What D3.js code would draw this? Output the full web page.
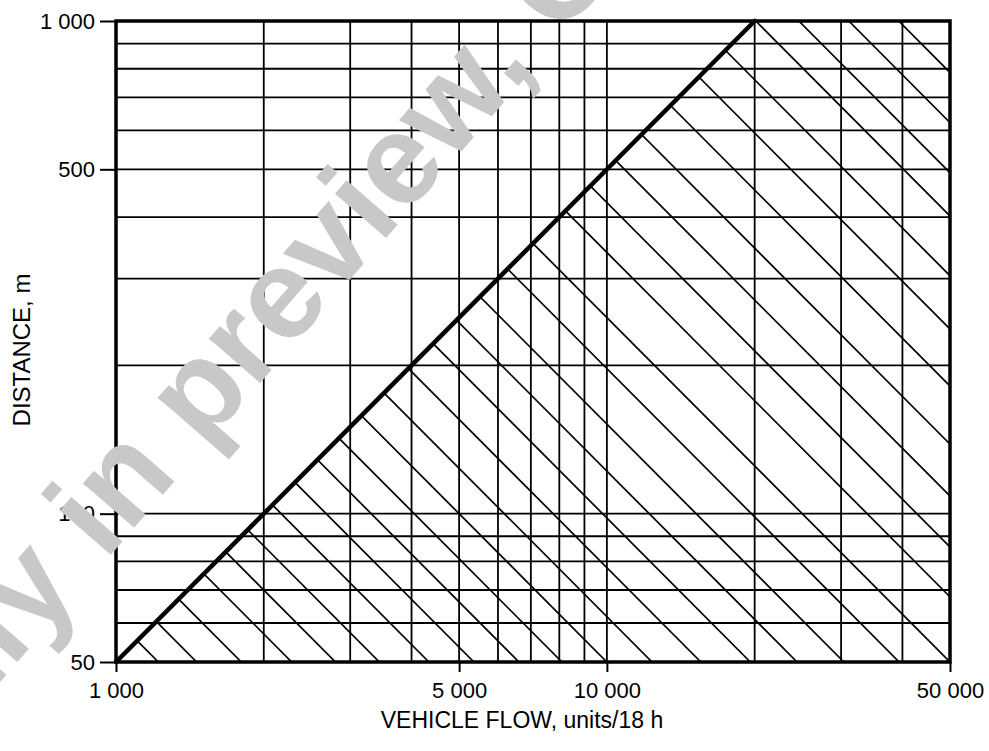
<html>
<head>
<title>Vehicle flow and distance</title>
<style>
    body { margin: 0; background: white; }
    svg text { font-family: "Liberation Sans", Arial, sans-serif; fill: black; }
    .grid line { stroke: black; stroke-width: 1.8; }
    .hatch line { stroke: black; stroke-width: 1.7; }
    .axis path { display: none; }
    .axis line { stroke: black; stroke-width: 2; }
</style>
<script src="https://d3js.org/d3.v7.min.js"></script>
</head>
<body>
<div id="chart"></div>
<script>
    // vehicle flow (units/18 h) on x, distance (m) on y, both log
    var flowDomain = [1000, 50000];
    var distDomain = [50, 1000];

    var flowTicks = [1000, 5000, 10000, 50000];
    var flowTickLabels = ['1 000', '5 000', '10 000', '50 000'];
    var distTicks = [50, 100, 500, 1000];
    var distTickLabels = ['50', '100', '500', '1 000'];

    var flowGrid = [2000, 3000, 4000, 5000, 6000, 7000, 8000, 9000, 10000, 20000, 30000, 40000];
    var distGrid = [60, 70, 80, 90, 100, 200, 300, 400, 500, 600, 700, 800, 900];

    // the heavy limit line
    var limitFlow = [1000, 20000];
    var limitDist = [50, 1000];

    // hatching: lines of constant flow x distance (millions)
    var hatchProducts = [0.061, 0.073, 0.090, 0.114, 0.140, 0.172, 0.217, 0.268, 0.331, 0.405,
        0.50, 0.618, 0.777, 0.98, 1.22, 1.52, 1.97, 2.5, 3.39, 4.28, 5.43, 6.92, 9.08,
        11.85, 15.2, 20.1, 24.6, 31.1, 39.3];

    var width = 989, height = 751;
    var plotLeft = 116, plotRight = 950, plotTop = 21, plotBottom = 662;

    var svg = d3.select('#chart')
            .append('svg')
            .attr('width', width)
            .attr('height', height);

    var x = d3.scaleLog().domain(flowDomain).range([plotLeft, plotRight]);
    var y = d3.scaleLog().domain(distDomain).range([plotBottom, plotTop]);

    // grid
    var grid = svg.append('g').attr('class', 'grid');
    grid.selectAll('line.v')
            .data(flowGrid)
        .enter().append('line')
            .attr('class', 'v')
            .attr('x1', function(d) { return x(d); })
            .attr('x2', function(d) { return x(d); })
            .attr('y1', y(distDomain[0]))
            .attr('y2', y(distDomain[1]));
    grid.selectAll('line.h')
            .data(distGrid)
        .enter().append('line')
            .attr('class', 'h')
            .attr('x1', x(flowDomain[0]))
            .attr('x2', x(flowDomain[1]))
            .attr('y1', function(d) { return y(d); })
            .attr('y2', function(d) { return y(d); });

    // clip for hatching: area right of / below the limit line
    var clipPts = [
        [limitFlow[0], limitDist[0]],
        [limitFlow[1], limitDist[1]],
        [flowDomain[1], distDomain[1]],
        [flowDomain[1], distDomain[0]]
    ];
    svg.append('clipPath')
            .attr('id', 'hatchClip')
        .append('polygon')
            .attr('points', clipPts.map(function(p) { return x(p[0]) + ',' + y(p[1]); }).join(' '));

    var hatch = svg.append('g')
            .attr('class', 'hatch')
            .attr('clip-path', 'url(#hatchClip)');
    hatch.selectAll('line')
            .data(hatchProducts)
        .enter().append('line')
            .attr('x1', function(k) { return x(k * 1e6 / distDomain[1]); })
            .attr('y1', y(distDomain[1]))
            .attr('x2', function(k) { return x(k * 1e6 / distDomain[0]); })
            .attr('y2', y(distDomain[0]));

    // frame
    svg.append('rect')
            .attr('x', plotLeft)
            .attr('y', plotTop)
            .attr('width', plotRight - plotLeft)
            .attr('height', plotBottom - plotTop)
            .attr('fill', 'none')
            .attr('stroke', 'black')
            .attr('stroke-width', 3.5);

    // limit line
    svg.append('line')
            .attr('x1', x(limitFlow[0]))
            .attr('y1', y(limitDist[0]))
            .attr('x2', x(limitFlow[1]))
            .attr('y2', y(limitDist[1]))
            .attr('stroke', 'black')
            .attr('stroke-width', 4.5)
            .attr('stroke-linecap', 'round');

    // axes
    var xAxis = d3.axisBottom(x)
            .tickValues(flowTicks)
            .tickFormat(function(d, i) { return flowTickLabels[i]; })
            .tickSize(10)
            .tickPadding(10);
    svg.append('g')
            .attr('class', 'axis')
            .attr('transform', 'translate(0,' + plotBottom + ')')
            .call(xAxis)
        .selectAll('text')
            .style('font-size', '22px');

    var yAxis = d3.axisLeft(y)
            .tickValues(distTicks)
            .tickFormat(function(d, i) { return distTickLabels[i]; })
            .tickSize(16)
            .tickPadding(5);
    svg.append('g')
            .attr('class', 'axis')
            .attr('transform', 'translate(' + plotLeft + ',0)')
            .call(yAxis)
        .selectAll('text')
            .style('font-size', '22px');

    // titles
    svg.append('text')
            .attr('x', 522)
            .attr('y', 728)
            .attr('text-anchor', 'middle')
            .style('font-size', '23px')
            .text('VEHICLE FLOW, units/18 h');

    svg.append('text')
            .attr('transform', 'translate(30,350) rotate(-90)')
            .attr('text-anchor', 'middle')
            .style('font-size', '24px')
            .text('DISTANCE, m');

    // preview watermark
    svg.append('text')
            .attr('transform', 'translate(-105,803) rotate(-49)')
            .style('font-size', '128px')
            .style('font-weight', 'bold')
            .style('fill', '#c8c8c8')
            .text('Only in preview, Only in preview');
</script>
</body>
</html>
